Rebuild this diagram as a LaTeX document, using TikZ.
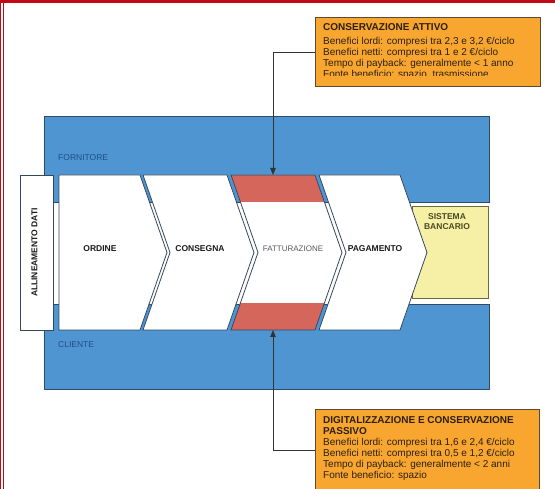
\documentclass[tikz,border=0pt]{standalone}
\usepackage{fontspec}
\setmainfont{Liberation Sans}
\usetikzlibrary{arrows.meta}

\definecolor{framered}{HTML}{C00A14}
\definecolor{laneblue}{HTML}{4F95D2}
\definecolor{laneedge}{HTML}{2E4A66}
\definecolor{chevedge}{HTML}{34495E}
\definecolor{bandred}{HTML}{D4665C}
\definecolor{bankyellow}{HTML}{F6EFA6}
\definecolor{bankedge}{HTML}{6B6A3A}
\definecolor{banktext}{HTML}{4A4A20}
\definecolor{boxorange}{HTML}{F8A630}
\definecolor{boxedge}{HTML}{5C4A2E}
\definecolor{boxtext}{HTML}{2B2010}
\definecolor{darktext}{HTML}{1A1A1A}
\definecolor{lanetext}{HTML}{1F4E8A}
\definecolor{connline}{HTML}{333333}

\tikzset{
  lane/.style={fill=laneblue, draw=laneedge, line width=0.7},
  chev/.style={fill=white, draw=chevedge, line width=0.8},
  steplabel/.style={font=\fontsize{8.5}{10}\selectfont\bfseries, text=darktext, inner sep=0},
  lanelabel/.style={font=\fontsize{8.5}{10}\selectfont, text=lanetext, inner sep=0, anchor=west},
  infobox/.style={fill=boxorange, draw=boxedge, line width=0.9, inner sep=0, anchor=north west},
  infotext/.style={font=\fontsize{10}{11.1}\selectfont, text=boxtext, inner sep=0, anchor=north west, align=left},
  conn/.style={draw=connline, line width=0.8, -{Triangle[length=7pt,width=5.5pt]}},
}

\begin{document}
\begin{tikzpicture}[x=1pt,y=-1pt]
\useasboundingbox (0,0) rectangle (555,489);

% page frame
\fill[framered] (0,0) rectangle (555,3.3);
\draw[framered, line width=0.8] (0.6,0) -- (0.6,489);
\draw[framered, line width=0.8] (2.9,3) -- (2.9,489);

% supplier and customer lanes
\draw[lane] (44,116) rectangle (489,202);
\draw[lane] (44,304) rectangle (489,389);
\node[lanelabel] (fornitore) at (58,158) {FORNITORE};
\node[lanelabel] (cliente) at (58,345) {CLIENTE};

% bank system
\node[draw=bankedge, fill=bankyellow, line width=0.8, minimum width=76, minimum height=92,
      inner sep=0, anchor=north west] (bank) at (412,206) {};
\node[font=\fontsize{8.5}{10}\selectfont\bfseries, text=banktext, align=center, inner sep=0]
      (banklbl) at (447,222) {SISTEMA\\BANCARIO};

% data alignment box
\node[draw=chevedge, fill=white, line width=0.8, minimum width=33, minimum height=155,
      inner sep=0] (allin) at (36.5,252.5) {};
\node[steplabel, rotate=90] (allinlbl) at (34.5,252.5) {ALLINEAMENTO DATI};

% process chevrons
\draw[chev] (59,175) -- (140,175) -- (167,252.5) -- (140,330) -- (59,330) -- cycle;
\draw[chev] (143,175) -- (227,175) -- (254,252.5) -- (227,330) -- (143,330) -- (170,252.5) -- cycle;
\fill[white] (231,175) -- (315,175) -- (342,252.5) -- (315,330) -- (231,330) -- (258,252.5) -- cycle;
\begin{scope}
  \clip (231,175) -- (315,175) -- (342,252.5) -- (315,330) -- (231,330) -- (258,252.5) -- cycle;
  \fill[bandred] (220,175) rectangle (350,202);
  \fill[bandred] (220,303) rectangle (350,330);
\end{scope}
\draw[chev, fill=none] (231,175) -- (315,175) -- (342,252.5) -- (315,330) -- (231,330) -- (258,252.5) -- cycle;
\draw[chev] (319,175) -- (400,175) -- (427,252.5) -- (400,330) -- (319,330) -- (346,252.5) -- cycle;

\node[steplabel] (ordine) at (100,249) {ORDINE};
\node[steplabel] (consegna) at (200,249) {CONSEGNA};
\node[steplabel, font=\fontsize{8}{10}\selectfont\mdseries, text=black!65] (fatturazione) at (293,249) {FATTURAZIONE};
\node[steplabel] (pagamento) at (375,249) {PAGAMENTO};

% active conservation benefits (last line cut by the box)
\node[infobox, minimum width=225, minimum height=69] (box1) at (315,17) {};
\begin{scope}
  \clip (316,18) rectangle (539,76);
  \node[infotext, font=\fontsize{10}{11}\selectfont] (txt1) at (323,23.8) {\textbf{CONSERVAZIONE ATTIVO}\\[2.5pt]
    Benefici lordi: compresi tra 2,3 e 3,2 €/ciclo\\
    Benefici netti: compresi tra 1 e 2 €/ciclo\\
    Tempo di payback: generalmente < 1 anno\\
    Fonte beneficio: spazio, trasmissione};
\end{scope}

% digitalisation and passive conservation benefits
\node[infobox, minimum width=224, minimum height=82] (box2) at (315,409) {};
\node[infotext] (txt2) at (323,416.1) {\textbf{DIGITALIZZAZIONE E CONSERVAZIONE}\\
  \textbf{PASSIVO}\\
  Benefici lordi: compresi tra 1,6 e 2,4 €/ciclo\\
  Benefici netti: compresi tra 0,5 e 1,2 €/ciclo\\
  Tempo di payback: generalmente < 2 anni\\
  Fonte beneficio: spazio};

% connectors to the invoicing step
\coordinate (c3top) at (273,175);
\coordinate (c3bot) at (273,330);
\draw[conn] (box1.west) -| (c3top);
\draw[conn] (box2.west) -| (c3bot);
\end{tikzpicture}
\end{document}
